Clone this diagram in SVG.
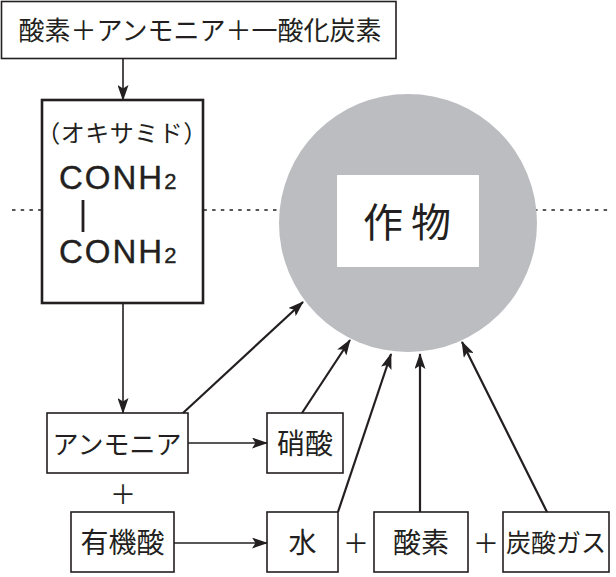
<svg xmlns="http://www.w3.org/2000/svg" width="616" height="577" viewBox="0 0 616 577">
<defs>
<style>
.box{fill:#fff;stroke:#231f20;stroke-width:1.6}
.thick{fill:#fff;stroke:#231f20;stroke-width:2.6}
.jp{font-family:"Noto Sans CJK JP","Noto Sans",sans-serif;fill:#231f20;text-anchor:middle;dominant-baseline:central}
.lat{font-family:"Liberation Sans","DejaVu Sans",sans-serif;fill:#231f20;stroke:#231f20;stroke-width:0.4}
.ln{stroke:#231f20;stroke-width:1.6;fill:none}
.ln2{stroke:#231f20;stroke-width:2.2;fill:none}
</style>
<marker id="ah" markerUnits="userSpaceOnUse" markerWidth="16" markerHeight="11" refX="15" refY="5.5" orient="auto" viewBox="0 0 16 11">
<path d="M0,0 L16,5.5 L0,11 L3.5,5.5 z" fill="#231f20"/>
</marker>
</defs>
<rect width="616" height="577" fill="#fff"/>
<g id="dotted">
<line x1="12" y1="210" x2="610" y2="210" stroke="#231f20" stroke-width="1.5" stroke-dasharray="3.5 5.2"/>
</g>
<g id="crop">
<circle cx="408" cy="223" r="129" fill="#bcbdc0"/>
<rect x="337" y="175" width="142" height="92" fill="#fff"/>
<text class="jp" x="411" y="220" font-size="40" letter-spacing="8">作物</text>
</g>
<g id="top">
<rect class="box" x="1.5" y="1.5" width="394.5" height="57"/>
<text class="jp" x="200" y="28" font-size="26">酸素＋アンモニア＋一酸化炭素</text>
</g>
<g id="oxamide">
<rect class="thick" x="42" y="100" width="161" height="203"/>
<text class="jp" x="122" y="131" font-size="24" letter-spacing="0.5">（オキサミド）</text>
<text class="lat" x="59" y="189" font-size="33" letter-spacing="2">CONH<tspan font-size="22">2</tspan></text>
<line x1="83" y1="200" x2="83" y2="232" stroke="#231f20" stroke-width="2.8"/>
<text class="lat" x="59" y="263" font-size="33" letter-spacing="2">CONH<tspan font-size="22">2</tspan></text>
</g>
<g id="ammonia">
<rect class="box" x="47" y="413" width="141" height="60"/>
<text class="jp" x="117" y="442" font-size="26">アンモニア</text>
</g>
<g id="nitric">
<rect class="box" x="267" y="413" width="76" height="60"/>
<text class="jp" x="305" y="442" font-size="28">硝酸</text>
</g>
<g id="organic">
<rect class="box" x="71" y="512" width="103" height="60"/>
<text class="jp" x="122.5" y="541" font-size="28">有機酸</text>
</g>
<g id="water">
<rect class="box" x="267" y="512" width="71" height="60"/>
<text class="jp" x="302.5" y="541" font-size="28">水</text>
</g>
<g id="oxygen">
<rect class="box" x="374" y="512" width="94" height="60"/>
<text class="jp" x="421" y="541" font-size="28">酸素</text>
</g>
<g id="co2">
<rect class="box" x="503" y="512" width="106" height="60"/>
<text class="jp" x="556" y="541" font-size="25">炭酸ガス</text>
</g>
<g id="plus">
<text class="jp" x="123" y="492" font-size="26">＋</text>
<text class="jp" x="356" y="541" font-size="26">＋</text>
<text class="jp" x="486" y="541" font-size="26">＋</text>
</g>
<g id="connectors">
<line class="ln" x1="123" y1="59" x2="123" y2="100" marker-end="url(#ah)"/>
<line class="ln" x1="123" y1="303" x2="123" y2="413" marker-end="url(#ah)"/>
<line class="ln" x1="188" y1="443" x2="267" y2="443" marker-end="url(#ah)"/>
<line class="ln" x1="174" y1="543" x2="267" y2="543" marker-end="url(#ah)"/>
<line class="ln2" x1="183" y1="413" x2="303" y2="302" marker-end="url(#ah)"/>
<line class="ln2" x1="302" y1="413" x2="350" y2="340" marker-end="url(#ah)"/>
<line class="ln2" x1="338" y1="512" x2="391" y2="354" marker-end="url(#ah)"/>
<line class="ln2" x1="420" y1="512" x2="420" y2="354" marker-end="url(#ah)"/>
<line class="ln2" x1="547" y1="512" x2="462" y2="342" marker-end="url(#ah)"/>
</g>
</svg>
